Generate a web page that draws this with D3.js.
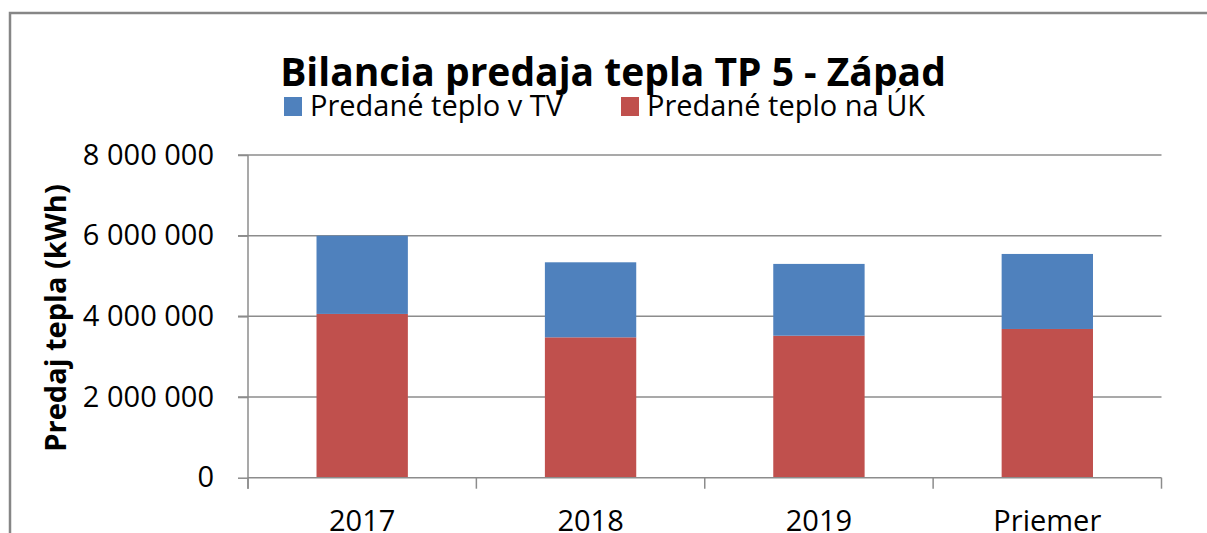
<!DOCTYPE html>
<html>
<head>
<meta charset="utf-8">
<script src="https://cdn.jsdelivr.net/npm/d3@7"></script>
<style>
  body { margin: 0; background: #fff; }
  svg { display: block; font-family: "Open Sans", sans-serif; }
  .grid line { stroke: #8c8c8c; stroke-width: 1.5; }
  .axis path, .axis line { stroke: #8c8c8c; stroke-width: 1.5; }
  .axis text { fill: #000; }
</style>
</head>
<body>
<script>
// Data
var categories = ['2017', '2018', '2019', 'Priemer'];
var seriesNames = ['Predané teplo na ÚK', 'Predané teplo v TV'];
var ukValues = [4060000, 3480000, 3520000, 3687000];
var tvValues = [1940000, 1860000, 1780000, 1860000];
var yTicks = [0, 2000000, 4000000, 6000000, 8000000];
var colors = ['#C0504D', '#4F81BD'];

var w = 1207,
    h = 533;

// plot area edges
var plotLeft = 248, plotRight = 1161.5, plotTop = 155, plotBottom = 477.7;

var rows = categories.map(function(c, i) {
  return { cat: c, uk: ukValues[i], tv: tvValues[i] };
});

var stack = d3.stack().keys(['uk', 'tv'])(rows);

var xScale = d3.scaleBand()
               .domain(categories)
               .range([plotLeft, plotRight])
               .paddingInner(0.6)
               .paddingOuter(0.3);

var yScale = d3.scaleLinear()
               .domain([0, 8000000])
               .range([plotBottom, plotTop]);

var fmt = function(d) {
  return d3.format(',')(d).replace(/,/g, ' ');
};

var svg = d3.select('body')
            .append('svg')
            .attr('width', w)
            .attr('height', h);

// outer chart frame (runs past the window)
svg.append('rect')
   .attr('x', 10)
   .attr('y', 13)
   .attr('width', 1300)
   .attr('height', 700)
   .attr('fill', 'none')
   .attr('stroke', '#868686')
   .attr('stroke-width', 2.5);

// gridlines
svg.append('g')
   .attr('class', 'grid')
   .selectAll('line')
   .data(yTicks.slice(1))
   .enter().append('line')
   .attr('x1', plotLeft - 10)
   .attr('x2', plotRight)
   .attr('y1', function(d) { return yScale(d); })
   .attr('y2', function(d) { return yScale(d); });

// bars
svg.append('g')
   .selectAll('g')
   .data(stack)
   .enter().append('g')
   .attr('fill', function(d, i) { return colors[i]; })
   .selectAll('rect')
   .data(function(d) { return d; })
   .enter().append('rect')
   .attr('x', function(d) { return xScale(d.data.cat); })
   .attr('width', xScale.bandwidth())
   .attr('y', function(d) { return yScale(d[1]); })
   .attr('height', function(d) { return yScale(d[0]) - yScale(d[1]); });

// y axis
var yAxis = d3.axisLeft(yScale)
              .tickValues(yTicks)
              .tickSize(10)
              .tickPadding(24)
              .tickFormat(fmt);

svg.append('g')
   .attr('class', 'axis')
   .attr('transform', 'translate(' + plotLeft + ',0)')
   .call(yAxis)
   .call(function(g) {
     g.select('.domain').attr('d', 'M0,' + plotTop + 'V' + (plotBottom + 11));
     g.selectAll('text').attr('font-size', 29).attr('font-family', '"Open Sans", sans-serif');
   });

// x axis: ticks between categories
var bounds = d3.range(categories.length + 1).map(function(i) {
  return plotLeft + i * (plotRight - plotLeft) / categories.length;
});

var xg = svg.append('g').attr('class', 'axis');
xg.append('line')
  .attr('x1', plotLeft).attr('x2', plotRight)
  .attr('y1', plotBottom).attr('y2', plotBottom);
xg.selectAll('line.tick')
  .data(bounds)
  .enter().append('line')
  .attr('class', 'tick')
  .attr('x1', function(d) { return d; })
  .attr('x2', function(d) { return d; })
  .attr('y1', plotBottom)
  .attr('y2', plotBottom + 11);
xg.selectAll('text')
  .data(categories)
  .enter().append('text')
  .attr('x', function(d) { return xScale(d) + xScale.bandwidth() / 2; })
  .attr('y', 531)
  .attr('text-anchor', 'middle')
  .attr('font-size', 29)
  .text(function(d) { return d; });

// y axis title
svg.append('text')
   .attr('transform', 'translate(66,318) rotate(-90)')
   .attr('text-anchor', 'middle')
   .attr('font-weight', 'bold')
   .attr('font-size', 29)
   .text('Predaj tepla (kWh)');

// title
svg.append('text')
   .attr('x', 613)
   .attr('y', 86)
   .attr('text-anchor', 'middle')
   .attr('font-weight', 'bold')
   .attr('font-size', 39)
   .text('Bilancia predaja tepla TP 5 - Západ');

// legend
var legendX = [284, 621];
var legend = svg.append('g')
                .selectAll('g')
                .data([1, 0])
                .enter().append('g')
                .attr('transform', function(d, i) { return 'translate(' + legendX[i] + ',0)'; });
legend.append('rect')
      .attr('x', 0).attr('y', 97)
      .attr('width', 18).attr('height', 19)
      .attr('fill', function(d) { return colors[d]; });
legend.append('text')
      .attr('x', 26).attr('y', 116)
      .attr('font-size', 29)
      .text(function(d) { return seriesNames[d]; });
</script>
</body>
</html>
